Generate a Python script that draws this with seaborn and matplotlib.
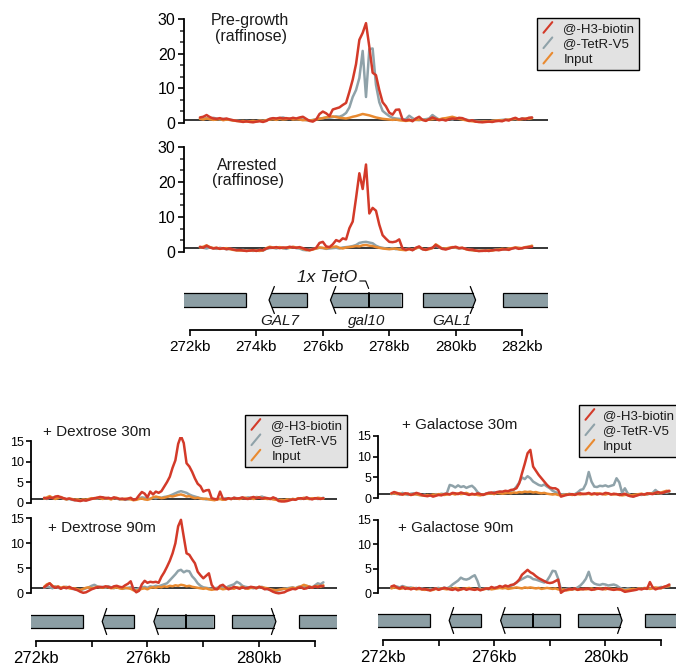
import numpy as np
import pandas as pd
import matplotlib
matplotlib.use("Agg")
import matplotlib.pyplot as plt
import seaborn as sns
from matplotlib.lines import Line2D
from matplotlib.patches import Polygon, Rectangle
from matplotlib.legend_handler import HandlerBase
from matplotlib.ticker import MultipleLocator, FixedLocator

# ---------------- data ----------------
# genomic bin centres (kb), 0.1 kb bins
pos = np.round(np.arange(272.3, 282.31, 0.1), 2)

pre_red = [1.6, 1.8, 2.3, 1.7, 1.3, 1.2, 1.4, 1.1, 1.3, 1.0,
           0.8, 0.6, 0.5, 0.3, 0.5, 0.3, 0.2, 0.4, 0.5, 0.3,
           0.6, 1.2, 1.4, 1.3, 1.5, 1.3, 1.4, 1.2, 1.5, 1.3,
           1.6, 1.8, 1.2, 0.6, 0.4, 1.0, 2.6, 3.3, 2.8, 2.0,
           3.9, 4.2, 4.5, 5.2, 5.8, 9.0, 12.5, 17.0, 24.0, 26.0,
           28.8, 22.0, 14.5, 13.8, 9.5, 6.0, 4.8, 3.0, 2.4, 3.8,
           3.9, 1.0, 0.7, 1.0, 0.5, 1.3, 1.8, 0.9, 0.6, 1.1,
           1.6, 1.2, 0.8, 1.0, 0.7, 1.1, 1.3, 1.2, 1.5, 1.4,
           1.0, 0.6, 0.8, 0.4, 0.3, 0.2, 0.3, 0.4, 0.3, 0.5,
           0.6, 0.5, 0.9, 0.7, 1.2, 1.5, 1.0, 1.3, 1.1, 1.5,
           1.6]
pre_gray = [1.3, 1.2, 1.4, 1.1, 1.5, 1.3, 1.0, 1.2, 1.1, 0.9,
            0.8, 0.7, 0.6, 0.5, 0.6, 0.5, 0.4, 0.5, 0.7, 0.6,
            0.8, 1.1, 1.3, 1.2, 1.4, 1.6, 1.3, 1.2, 1.4, 1.1,
            1.2, 1.0, 0.8, 0.7, 0.9, 1.1, 1.3, 1.4, 1.6, 1.5,
            1.7, 1.9, 1.8, 2.2, 2.9, 4.5, 7.5, 9.5, 13.0, 20.8,
            7.5, 21.3, 21.5, 11.0, 6.0, 3.5, 2.7, 2.0, 1.5, 1.3,
            1.2, 1.0, 1.1, 2.1, 1.4, 0.9, 0.8, 1.0, 1.1, 1.3,
            2.3, 1.6, 1.0, 0.9, 1.1, 1.2, 1.0, 1.4, 1.3, 1.2,
            1.0, 0.8, 0.7, 0.6, 0.5, 0.4, 0.5, 0.4, 0.6, 0.7,
            0.8, 0.9, 1.0, 0.9, 1.1, 1.2, 1.0, 1.3, 1.2, 1.4,
            1.5]
pre_input = [1.2, 1.0, 1.3, 1.1, 0.9, 1.0, 1.2, 0.8, 1.0, 0.9,
             0.7, 0.6, 0.5, 0.6, 0.4, 0.5, 0.6, 0.5, 0.7, 0.6,
             0.8, 1.0, 1.1, 0.9, 1.2, 1.0, 1.1, 1.3, 1.0, 1.1,
             1.0, 0.8, 0.9, 0.7, 0.8, 1.0, 1.2, 1.4, 1.6, 1.8,
             1.9, 1.7, 1.5, 1.4, 1.3, 1.5, 1.8, 2.0, 2.3, 2.6,
             2.4, 2.2, 1.9, 1.6, 1.4, 1.2, 1.1, 1.0, 0.9, 1.0,
             0.8, 0.7, 0.6, 0.7, 0.8, 0.9, 1.0, 0.9, 0.8, 1.0,
             1.1, 1.2, 1.0, 1.3, 1.4, 1.6, 1.8, 1.5, 1.2, 1.0,
             0.8, 0.6, 0.5, 0.4, 0.3, 0.4, 0.5, 0.4, 0.6, 0.7,
             0.8, 0.7, 0.9, 1.0, 1.1, 1.2, 1.0, 1.1, 1.3, 1.2,
             1.4]

arr_red = [1.5, 1.2, 1.8, 1.3, 1.0, 1.2, 0.9, 1.1, 0.8, 1.0,
           0.7, 0.5, 0.6, 0.4, 0.3, 0.4, 0.5, 0.3, 0.6, 0.5,
           1.0, 1.3, 1.2, 1.4, 1.1, 1.3, 1.2, 1.5, 1.3, 1.2,
           1.4, 1.1, 0.7, 0.5, 0.8, 1.2, 2.6, 2.9, 1.6, 1.4,
           2.2, 3.4, 3.0, 3.9, 3.6, 6.8, 8.7, 15.4, 22.5, 18.0,
           25.0, 11.0, 12.6, 11.8, 7.8, 4.8, 3.8, 2.9, 2.8, 3.0,
           3.6, 1.0, 0.6, 0.9, 0.5, 1.2, 1.6, 0.8, 0.6, 1.0,
           1.2, 2.0, 1.4, 0.9, 0.7, 1.0, 1.3, 1.5, 1.1, 1.2,
           0.9, 0.6, 0.7, 0.4, 0.3, 0.3, 0.4, 0.3, 0.5, 0.6,
           0.5, 0.7, 0.8, 0.6, 1.0, 1.2, 0.9, 1.1, 1.3, 1.4,
           1.5]
arr_gray = [1.4, 1.2, 1.0, 1.3, 1.1, 0.9, 1.2, 1.0, 0.8, 0.9,
            0.8, 0.6, 0.5, 0.6, 0.4, 0.5, 0.3, 0.5, 0.6, 0.4,
            0.9, 1.1, 1.2, 1.0, 1.3, 1.1, 0.9, 1.2, 1.4, 1.1,
            1.0, 0.6, 0.5, 0.7, 0.9, 1.0, 1.2, 1.1, 0.9, 1.0,
            1.1, 1.2, 1.0, 1.3, 1.4, 1.5, 1.7, 2.0, 2.6, 2.8,
            2.9, 2.7, 2.5, 1.8, 1.4, 1.2, 1.0, 0.9, 1.1, 0.8,
            0.9, 0.7, 0.8, 1.0, 0.6, 1.1, 1.3, 0.8, 0.7, 1.0,
            1.2, 1.8, 1.3, 0.9, 1.0, 1.1, 1.3, 1.2, 1.0, 1.1,
            0.9, 0.7, 0.5, 0.4, 0.3, 0.4, 0.5, 0.3, 0.5, 0.7,
            0.6, 0.8, 0.7, 0.9, 1.0, 1.2, 1.1, 1.0, 1.3, 1.5,
            1.7]
arr_input = [1.3, 1.5, 1.9, 1.4, 1.1, 1.2, 0.9, 1.0, 1.1, 0.8,
             0.6, 0.5, 0.4, 0.5, 0.3, 0.4, 0.5, 0.4, 0.3, 0.5,
             1.1, 1.5, 1.3, 1.2, 1.4, 1.1, 1.3, 1.2, 1.5, 1.3,
             1.2, 0.9, 0.6, 0.5, 0.7, 1.0, 1.3, 1.2, 1.0, 1.3,
             1.4, 1.6, 1.2, 1.0, 1.3, 1.4, 1.5, 1.7, 1.6, 1.9,
             2.0, 1.8, 1.7, 1.4, 1.2, 1.0, 0.9, 0.8, 0.9, 1.0,
             0.7, 0.6, 0.5, 0.8, 0.6, 1.0, 1.4, 0.9, 0.6, 0.8,
             1.1, 2.2, 1.6, 0.9, 1.0, 1.2, 1.4, 1.3, 1.1, 1.2,
             0.8, 0.6, 0.5, 0.4, 0.3, 0.4, 0.3, 0.5, 0.4, 0.6,
             0.7, 0.9, 0.8, 1.0, 1.1, 1.3, 1.2, 1.1, 1.4, 1.5,
             1.8]

dex30_red = [1.2, 1.0, 1.3, 1.1, 1.5, 1.6, 1.3, 1.1, 0.9, 1.0,
             0.8, 0.6, 0.5, 0.4, 0.6, 0.5, 0.7, 0.9, 1.1, 1.2,
             1.4, 1.3, 1.1, 1.2, 1.0, 1.3, 1.1, 0.9, 1.0, 0.8,
             1.0, 1.2, 0.7, 0.9, 1.8, 2.6, 2.2, 1.3, 2.7, 2.0,
             2.7, 2.4, 2.8, 3.9, 5.0, 6.3, 8.5, 10.3, 14.3, 16.2,
             14.5, 9.6, 8.8, 7.5, 5.9, 4.6, 4.0, 2.7, 3.0, 3.1,
             1.1, 0.9, 0.8, 2.7, 1.0, 0.8, 1.1, 0.9, 1.2, 1.0,
             1.1, 1.3, 1.0, 0.9, 1.2, 1.4, 1.1, 1.3, 1.0, 1.2,
             1.1, 0.9, 1.3, 1.0, 0.4, 0.3, 0.3, 0.4, 0.6, 0.8,
             0.7, 1.0, 1.1, 0.9, 1.3, 1.0, 0.8, 1.1, 1.0, 0.9,
             1.1]
dex30_gray = [1.1, 0.9, 1.3, 1.2, 1.0, 1.4, 1.2, 1.0, 0.8, 0.9,
              0.7, 0.6, 0.8, 0.5, 0.7, 0.6, 0.8, 1.0, 1.1, 1.0,
              1.2, 1.3, 1.0, 1.1, 0.9, 1.2, 1.0, 0.8, 0.9, 0.7,
              0.8, 1.0, 0.7, 0.8, 1.1, 1.3, 1.2, 0.9, 1.0, 1.2,
              1.1, 1.3, 1.2, 1.4, 1.5, 1.7, 2.0, 2.3, 2.6, 2.8,
              2.6, 2.4, 2.0, 1.7, 1.5, 1.3, 1.1, 1.0, 0.8, 0.9,
              0.8, 0.7, 0.9, 1.0, 0.8, 1.1, 1.0, 0.9, 1.2, 1.1,
              1.0, 1.2, 1.1, 1.3, 1.2, 1.0, 1.4, 1.3, 1.5, 1.2,
              1.0, 0.9, 1.1, 1.0, 0.7, 0.6, 0.5, 0.6, 0.7, 0.9,
              0.8, 1.0, 0.9, 1.1, 1.2, 0.9, 1.0, 1.1, 0.9, 1.0,
              1.2]
dex30_input = [1.0, 1.3, 1.6, 1.2, 0.9, 1.1, 1.4, 1.0, 0.8, 1.0,
               0.9, 0.7, 0.8, 0.6, 0.8, 0.7, 0.9, 1.1, 1.0, 1.2,
               1.1, 0.9, 1.2, 1.0, 0.8, 1.1, 1.2, 0.9, 0.8, 1.0,
               0.9, 0.8, 0.6, 0.7, 0.9, 1.0, 0.8, 0.7, 0.9, 1.3,
               1.5, 1.3, 1.1, 1.2, 1.4, 1.6, 1.5, 1.7, 1.9, 2.0,
               1.8, 1.5, 1.6, 1.3, 1.1, 1.2, 1.0, 0.9, 1.0, 0.8,
               0.7, 0.6, 0.8, 0.9, 0.7, 0.8, 1.0, 0.9, 1.1, 1.0,
               0.9, 1.1, 1.2, 1.0, 1.1, 0.9, 1.2, 1.3, 1.1, 1.0,
               0.9, 1.0, 0.8, 0.7, 0.6, 0.7, 0.6, 0.8, 0.7, 0.9,
               0.8, 1.1, 1.0, 1.2, 1.0, 0.9, 1.1, 1.0, 1.2, 1.1,
               1.0]

dex90_red = [1.2, 1.6, 2.0, 1.4, 1.1, 1.3, 0.9, 1.2, 1.0, 1.3,
             1.0, 0.8, 0.6, 0.3, 0.1, 0.2, 0.5, 0.8, 1.0, 1.2,
             1.3, 1.2, 1.4, 1.3, 1.1, 1.4, 1.5, 1.3, 1.2, 1.6,
             1.9, 2.4, 0.8, 0.2, 0.5, 1.8, 2.5, 2.1, 2.3, 2.2,
             2.3, 2.1, 3.3, 4.2, 5.3, 6.5, 8.0, 10.0, 13.4, 14.7,
             11.3, 8.0, 7.7, 6.8, 6.0, 4.3, 3.6, 3.0, 3.5, 4.0,
             1.7, 0.9, 0.8, 1.5, 1.7, 1.2, 0.8, 1.0, 1.3, 1.1,
             0.9, 1.2, 1.0, 1.1, 1.3, 1.2, 1.0, 1.3, 1.1, 0.8,
             0.9, 0.6, 0.3, 0.1, 0.0, 0.1, 0.2, 0.5, 0.7, 0.9,
             0.8, 1.1, 1.2, 0.9, 1.0, 1.3, 1.1, 1.4, 1.2, 1.5,
             1.4]
dex90_gray = [1.1, 1.3, 1.2, 1.0, 1.4, 1.1, 1.0, 1.2, 1.3, 1.1,
              0.9, 0.8, 0.7, 0.6, 0.8, 1.0, 1.2, 1.5, 1.7, 1.4,
              1.2, 1.3, 1.1, 1.4, 1.2, 1.0, 1.3, 1.1, 0.9, 1.0,
              1.1, 1.2, 0.9, 0.8, 1.0, 1.2, 1.3, 1.1, 1.4, 1.3,
              1.5, 1.4, 1.6, 1.8, 2.0, 2.6, 3.2, 3.8, 4.5, 4.7,
              4.2, 4.5, 4.4, 3.4, 2.8, 2.0, 1.5, 1.2, 1.1, 1.0,
              0.9, 1.0, 1.1, 1.3, 1.2, 1.0, 1.4, 1.6, 1.8, 2.3,
              2.0, 1.5, 1.3, 1.2, 1.1, 1.0, 1.2, 1.1, 1.3, 1.0,
              0.8, 0.7, 0.6, 0.5, 0.6, 0.8, 0.9, 1.0, 1.1, 1.2,
              1.0, 1.3, 1.4, 1.2, 1.5, 1.3, 1.2, 1.6, 2.0, 1.8,
              2.2]
dex90_input = [1.3, 1.8, 2.0, 1.5, 1.2, 1.4, 1.1, 1.3, 1.2, 1.0,
               0.9, 1.0, 0.8, 0.7, 0.9, 1.1, 1.2, 1.0, 1.1, 1.3,
               1.2, 1.1, 1.3, 1.2, 1.0, 1.1, 1.2, 1.0, 0.9, 1.1,
               1.0, 0.9, 0.6, 0.5, 0.7, 0.9, 1.0, 0.8, 1.1, 1.2,
               1.1, 1.3, 1.2, 1.4, 1.3, 1.5, 1.4, 1.6, 1.5, 1.7,
               1.6, 1.4, 1.5, 1.3, 1.2, 1.1, 1.0, 0.9, 1.0, 0.8,
               0.7, 0.8, 0.9, 1.0, 0.8, 0.9, 1.1, 1.0, 0.9, 1.2,
               1.1, 1.3, 1.0, 0.9, 1.1, 1.2, 1.0, 1.3, 1.2, 1.1,
               1.0, 0.8, 0.7, 0.6, 0.7, 0.8, 0.9, 0.8, 1.0, 1.1,
               1.0, 1.2, 1.4, 1.7, 1.5, 1.3, 1.2, 1.4, 1.5, 1.3,
               1.6]

gal30_red = [1.2, 1.5, 1.3, 1.0, 0.9, 1.2, 1.1, 0.8, 1.0, 1.3,
             1.1, 0.8, 0.6, 0.5, 0.7, 0.4, 0.6, 0.8, 0.7, 1.0,
             1.1, 0.9, 1.3, 1.2, 1.0, 1.4, 1.2, 1.0, 0.8, 1.1,
             0.9, 1.2, 1.0, 0.8, 1.1, 1.3, 1.4, 1.2, 1.5, 1.6,
             1.6, 1.8, 1.7, 2.0, 2.1, 2.4, 3.6, 6.0, 8.3, 10.8,
             11.6, 7.6, 6.6, 5.6, 4.8, 4.0, 3.2, 2.6, 2.4, 2.4,
             2.0, 0.4, 0.6, 0.8, 0.9, 1.0, 0.8, 1.1, 1.2, 1.0,
             1.1, 1.3, 1.0, 1.2, 0.9, 1.1, 1.0, 1.3, 1.2, 0.9,
             1.1, 1.0, 0.8, 0.9, 1.1, 0.7, 0.5, 0.4, 0.6, 0.8,
             1.0, 0.9, 1.2, 1.1, 1.0, 1.3, 1.5, 1.2, 1.4, 1.6,
             1.8]
gal30_gray = [1.0, 1.2, 1.1, 0.9, 1.3, 1.0, 0.8, 1.1, 1.2, 0.9,
              0.8, 0.7, 0.9, 0.6, 0.8, 0.7, 1.0, 0.9, 1.1, 1.0,
              1.3, 3.2, 3.0, 2.6, 3.1, 2.7, 2.9, 2.5, 2.8, 3.0,
              2.4, 1.5, 1.0, 0.8, 1.1, 1.3, 1.2, 1.5, 1.3, 1.6,
              1.4, 1.7, 1.5, 1.8, 2.0, 2.8, 3.8, 5.0, 4.6, 5.3,
              4.8, 4.0, 3.6, 3.2, 3.0, 3.3, 2.8, 2.4, 1.8, 1.5,
              1.2, 0.9, 1.0, 0.8, 1.1, 0.9, 1.0, 1.4, 2.0, 2.2,
              3.5, 6.3, 4.0, 2.8, 2.7, 3.0, 2.9, 3.1, 2.8, 3.0,
              3.2, 4.8, 3.8, 1.3, 2.4, 1.2, 0.8, 0.4, 0.7, 0.9,
              0.8, 1.0, 0.9, 1.1, 1.3, 2.0, 1.4, 1.1, 1.5, 1.3,
              1.6]
gal30_input = [1.1, 1.3, 1.0, 1.2, 0.9, 1.0, 1.1, 0.8, 0.9, 1.0,
               0.8, 0.7, 0.6, 0.8, 0.7, 0.9, 0.8, 1.0, 0.9, 0.8,
               0.9, 1.0, 1.1, 0.9, 1.2, 1.0, 1.1, 1.3, 1.0, 0.9,
               1.0, 0.8, 0.7, 0.9, 1.0, 1.1, 1.2, 1.0, 1.3, 1.2,
               1.1, 1.2, 1.3, 1.2, 1.4, 1.3, 1.5, 1.4, 1.6, 1.5,
               1.6, 1.4, 1.5, 1.3, 1.2, 1.3, 1.1, 1.0, 0.9, 1.0,
               0.8, 0.7, 0.8, 0.9, 1.0, 0.8, 0.9, 1.0, 0.9, 1.1,
               1.0, 1.1, 0.9, 1.0, 1.2, 1.1, 1.0, 0.9, 1.1, 1.0,
               0.9, 1.0, 0.8, 0.7, 0.8, 0.9, 0.7, 0.8, 0.9, 1.0,
               1.1, 0.9, 1.0, 1.2, 1.1, 1.3, 1.2, 1.4, 1.6, 1.8,
               1.7]

gal90_red = [1.4, 1.6, 1.2, 1.0, 1.3, 0.9, 1.1, 0.8, 1.0, 0.9,
             1.1, 0.8, 0.9, 0.7, 0.6, 0.8, 1.0, 0.7, 0.9, 1.1,
             1.0, 0.8, 0.7, 0.9, 0.6, 0.8, 1.0, 0.7, 0.9, 0.8,
             0.7, 0.9, 0.6, 0.8, 1.0, 0.9, 1.3, 1.1, 1.2, 1.5,
             1.3, 1.6, 1.4, 1.7, 1.8, 2.2, 2.8, 3.8, 4.3, 4.8,
             4.3, 4.0, 3.5, 3.1, 2.8, 2.5, 2.2, 2.1, 2.2, 2.5,
             2.8, 0.1, 0.5, 0.7, 0.9, 0.8, 1.0, 0.7, 0.9, 0.8,
             1.0, 0.9, 0.7, 0.8, 1.0, 0.9, 0.8, 1.1, 0.9, 0.8,
             0.7, 0.8, 0.9, 0.6, 0.3, 0.4, 0.5, 0.6, 0.7, 0.9,
             0.8, 1.0, 0.9, 2.3, 1.2, 0.8, 1.0, 1.1, 1.3, 1.5,
             1.8]
gal90_gray = [1.1, 1.3, 1.4, 1.2, 1.5, 1.3, 1.1, 1.2, 1.0, 1.1,
              0.9, 1.0, 0.8, 0.7, 0.9, 0.8, 1.0, 1.1, 0.9, 1.2,
              1.0, 1.3, 1.8, 2.2, 2.6, 3.2, 2.9, 2.8, 3.0, 3.4,
              3.7, 2.5, 0.8, 0.9, 1.0, 0.8, 1.1, 1.0, 1.2, 1.3,
              1.1, 1.4, 1.3, 1.5, 1.8, 2.2, 2.6, 2.9, 3.2, 3.5,
              3.3, 2.9, 2.8, 2.6, 2.4, 2.2, 2.6, 3.5, 4.6, 4.5,
              3.0, 0.8, 0.6, 0.9, 1.0, 0.8, 0.9, 1.2, 1.6, 2.2,
              3.0, 4.4, 2.5, 2.0, 1.8, 1.7, 1.9, 1.8, 1.6, 1.7,
              1.8, 1.6, 1.2, 0.9, 0.8, 1.0, 0.9, 0.7, 0.8, 1.0,
              0.9, 1.1, 1.0, 0.9, 1.2, 1.0, 1.1, 1.3, 1.2, 1.4,
              1.5]
gal90_input = [1.0, 1.2, 1.1, 0.9, 1.0, 1.2, 0.9, 1.0, 1.1, 0.8,
               0.9, 0.8, 0.7, 0.8, 0.6, 0.7, 0.9, 0.8, 1.0, 0.9,
               0.8, 1.0, 0.9, 1.1, 1.0, 0.8, 0.9, 1.0, 1.1, 0.9,
               0.8, 0.9, 0.7, 0.8, 0.9, 1.0, 0.8, 0.9, 1.0, 1.1,
               1.0, 1.1, 0.9, 1.0, 1.1, 1.2, 1.1, 1.0, 1.2, 1.1,
               1.2, 1.1, 1.0, 1.1, 0.9, 1.0, 1.1, 1.0, 0.9, 1.0,
               0.8, 0.7, 0.8, 0.6, 0.7, 0.8, 0.9, 0.7, 0.8, 0.9,
               0.8, 0.9, 1.0, 0.8, 0.9, 1.0, 0.9, 0.8, 1.0, 0.9,
               0.8, 0.9, 0.7, 0.8, 0.6, 0.7, 0.8, 0.9, 0.8, 1.0,
               0.9, 1.0, 1.1, 0.9, 1.0, 1.2, 1.1, 1.0, 1.3, 1.4,
               1.5]

series_labels = ["@-H3-biotin", "@-TetR-V5", "Input"]

# gene annotation (kb)
gene_names = ["", "GAL7", "gal10", "GAL1", ""]
gene_start = [271.5, 274.38, 276.23, 279.03, 281.43]
gene_end = [273.70, 275.53, 278.37, 280.60, 283.50]
gene_strand = [0, -1, -1, 1, 0]
gene_label_x = [None, 274.70, 277.32, 279.88, None]
teto_pos = 277.38

x_ticks = [272, 274, 276, 278, 280, 282]
top_tick_labels = ["272kb", "274kb", "276kb", "278kb", "280kb", "282kb"]
bottom_tick_labels = ["272kb", "", "276kb", "", "280kb", ""]

# ---------------- style ----------------
RED = "#d33a29"
GRAY = "#8fa2a9"
ORANGE = "#e98a30"
GENE_FILL = "#8c9ea4"
INK = "#1a1a1a"
palette = {"@-H3-biotin": RED, "@-TetR-V5": GRAY, "Input": ORANGE}

sns.set_style("white")
plt.rcParams["font.family"] = ["Liberation Sans", "DejaVu Sans"]
plt.rcParams["text.color"] = INK

W, H = 676, 667
XLIM = (271.82, 282.78)
fig = plt.figure(figsize=(W / 100, H / 100), dpi=100)


def add_ax(left, top, right, bottom):
    return fig.add_axes([left / W, 1 - bottom / H, (right - left) / W, (bottom - top) / H])


def signal_panel(left, right, y0_px, ymax_px, ymax, red, gray, inp,
                 major, minor, fs, ticklen):
    ppu = (y0_px - ymax_px) / ymax
    ax = add_ax(left, ymax_px - ppu, right, y0_px + ppu)
    df = pd.DataFrame({
        "pos": np.concatenate([pos, pos, pos]),
        "signal": np.concatenate([gray, inp, red]),
        "series": ["@-TetR-V5"] * len(pos) + ["Input"] * len(pos) + ["@-H3-biotin"] * len(pos),
    })
    ax.axhline(1, color="black", lw=1.1, zorder=1)
    sns.lineplot(data=df, x="pos", y="signal", hue="series",
                 hue_order=["@-TetR-V5", "Input", "@-H3-biotin"],
                 palette=palette, estimator=None, legend=False,
                 linewidth=1.8, ax=ax, zorder=2)
    ax.set_xlim(XLIM)
    ax.set_ylim(-1, ymax + 1)
    for s in ["top", "right", "bottom"]:
        ax.spines[s].set_visible(False)
    ax.spines["left"].set_bounds(0, ymax)
    ax.spines["left"].set_linewidth(1.3)
    ax.spines["left"].set_color("black")
    ax.set_xticks([])
    ax.yaxis.set_major_locator(MultipleLocator(major))
    if minor:
        ax.yaxis.set_minor_locator(FixedLocator(minor))
        ax.tick_params(axis="y", which="minor", direction="out", length=ticklen * 0.7,
                       width=1.1, left=True)
    ax.tick_params(axis="y", which="major", direction="out", length=ticklen, width=1.2,
                   labelsize=fs, pad=1.5, left=True, colors="black")
    ax.set_xlabel("")
    ax.set_ylabel("")
    ax.patch.set_alpha(0)
    return ax


def gene_panel(left, right, top_px, axis_px, box_top, box_bot, tick_labels, fs,
               ticklen, pad, show_names):
    ax = add_ax(left, top_px, right, axis_px)
    ax.set_xlim(XLIM)
    ax.set_ylim(axis_px, top_px)
    ax.patch.set_alpha(0)
    mid = (box_top + box_bot) / 2
    ext = 6.5
    w = 0.16
    frac = (mid - box_top) / (mid - box_top + ext)
    for name, s, e, strand, lx in zip(gene_names, gene_start, gene_end, gene_strand, gene_label_x):
        if strand == 0:
            ax.add_patch(Rectangle((s, box_top), e - s, box_bot - box_top,
                                   facecolor=GENE_FILL, edgecolor="black", lw=0.9))
        else:
            if strand < 0:
                tip, base, far = s, s + w, e
            else:
                tip, base, far = e, e - w, s
            xc = tip + (base - tip) * frac
            ax.add_patch(Polygon([(tip, mid), (xc, box_top), (far, box_top),
                                  (far, box_bot), (xc, box_bot)], closed=True,
                                 facecolor=GENE_FILL, edgecolor="none"))
            ax.plot([xc, far, far, xc], [box_top, box_top, box_bot, box_bot],
                    color="black", lw=0.9, solid_joinstyle="miter")
            ax.plot([base, tip, base], [box_top - ext, mid, box_bot + ext],
                    color="black", lw=0.9, clip_on=False)
        if show_names and name:
            ax.text(lx, 325, name, ha="center", va="baseline", fontsize=11,
                    style="italic")
    ax.plot([teto_pos, teto_pos], [box_top, box_bot], color="black", lw=1.4)
    for s in ["top", "right", "left"]:
        ax.spines[s].set_visible(False)
    ax.spines["bottom"].set_bounds(x_ticks[0], x_ticks[-1])
    ax.spines["bottom"].set_linewidth(1.3)
    ax.spines["bottom"].set_color("black")
    ax.set_yticks([])
    ax.set_xticks(x_ticks)
    ax.set_xticklabels(tick_labels)
    ax.tick_params(axis="x", direction="out", length=ticklen, width=1.2,
                   labelsize=fs, pad=pad, bottom=True, colors="black")
    return ax


class DiagHandler(HandlerBase):
    def create_artists(self, legend, orig_handle, xdescent, ydescent, width,
                       height, fontsize, trans):
        x0 = -xdescent + 0.15 * width
        x1 = -xdescent + 0.85 * width
        y0 = -ydescent - 0.05 * height
        y1 = -ydescent + 1.05 * height
        ln = Line2D([x0, x1], [y0, y1], color=orig_handle.get_color(), lw=1.5,
                    transform=trans)
        return [ln]


def add_legend(x_px, y_px, textpad=0.7):
    handles = [Line2D([], [], color=palette[l]) for l in series_labels]
    leg = fig.legend(handles, series_labels, loc="upper left",
                     bbox_to_anchor=(x_px / W, 1 - y_px / H),
                     bbox_transform=fig.transFigure,
                     handler_map={Line2D: DiagHandler()}, frameon=True,
                     fancybox=False, framealpha=1, facecolor="#e2e2e2",
                     edgecolor="black", fontsize=9.5, handlelength=0.95,
                     handleheight=0.75, handletextpad=textpad, borderpad=0.35,
                     labelspacing=0.22, borderaxespad=0)
    leg.get_frame().set_linewidth(1.0)
    return leg


# ---------------- top block ----------------
TL, TR = 184.0, 548.0
third = [10 / 3 * k for k in range(10) if k % 3 != 0]
signal_panel(TL, TR, 123, 19, 30, pre_red, pre_gray, pre_input, 10, third, 11.5, 4.5)
signal_panel(TL, TR, 252, 147, 30, arr_red, arr_gray, arr_input, 10, third, 11.5, 4.5)
gax = gene_panel(TL, TR, 285, 330, 293, 307, top_tick_labels, 11, 4.5, 3.0, True)
gax.text(275.21, 281.5, "1x TetO", ha="left", va="baseline", fontsize=12.5,
         style="italic", clip_on=False)
gax.plot([teto_pos - 0.27, teto_pos - 0.09, teto_pos], [281, 281, 288.5],
         color="black", lw=0.8, clip_on=False)

fig.text(250 / W, 1 - 25 / H, "Pre-growth", ha="center", va="baseline", fontsize=11.5)
fig.text(251.5 / W, 1 - 41 / H, "(raffinose)", ha="center", va="baseline", fontsize=11.5)
fig.text(247.5 / W, 1 - 169.5 / H, "Arrested", ha="center", va="baseline", fontsize=11.5)
fig.text(248 / W, 1 - 185.5 / H, "(raffinose)", ha="center", va="baseline", fontsize=11.5)
add_legend(537, 18)

# ---------------- bottom left ----------------
BLL, BLR = 30.7, 336.8
signal_panel(BLL, BLR, 502.7, 441, 15, dex30_red, dex30_gray, dex30_input, 5, None, 9, 3.5)
signal_panel(BLL, BLR, 593.3, 518.3, 15, dex90_red, dex90_gray, dex90_input, 5, None, 9, 3.5)
gene_panel(BLL, BLR, 600, 641, 615, 628, bottom_tick_labels, 12, 4.5, 2.5, False)
fig.text(43.3 / W, 1 - 436 / H, "+ Dextrose 30m", ha="left", va="baseline", fontsize=11)
fig.text(48 / W, 1 - 532.3 / H, "+ Dextrose 90m", ha="left", va="baseline", fontsize=11)
add_legend(245, 415)

# ---------------- bottom right ----------------
BRL, BRR = 378.0, 682.7
signal_panel(BRL, BRR, 498.3, 435.7, 15, gal30_red, gal30_gray, gal30_input, 5, None, 9, 3.5)
signal_panel(BRL, BRR, 593.3, 520, 15, gal90_red, gal90_gray, gal90_input, 5, None, 9, 3.5)
gene_panel(BRL, BRR, 600, 640, 614, 627, bottom_tick_labels, 12, 4.5, 2.5, False)
fig.text(401.7 / W, 1 - 429 / H, "+ Galactose 30m", ha="left", va="baseline", fontsize=11)
fig.text(398 / W, 1 - 531.7 / H, "+ Galactose 90m", ha="left", va="baseline", fontsize=11)
add_legend(579, 405, textpad=0.5)

fig.savefig("out.png", dpi=100, facecolor="white")
